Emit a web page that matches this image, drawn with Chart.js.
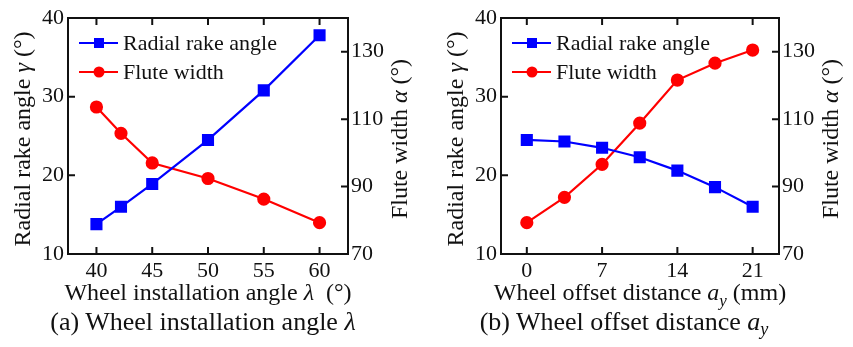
<!DOCTYPE html>
<html>
<head>
<meta charset="utf-8">
<script src="https://cdn.jsdelivr.net/npm/chart.js@4"></script>
<style>
  html, body { margin: 0; padding: 0; background: #fff; }
  #wrap { position: relative; width: 853px; height: 347px; font-family: "Liberation Serif", "Times New Roman", serif; color: #111; }
  .box { position: absolute; top: 0; height: 310px; }
  .cap { position: absolute; top: 307px; font-size: 26px; line-height: 30px; white-space: nowrap; transform: translateX(-50%); }
  .cap sub { font-size: 0.7em; vertical-align: -0.3em; line-height: 0; }
</style>
</head>
<body>
<div id="wrap">
  <div class="box" style="left:0;width:426px"><canvas id="chartA"></canvas></div>
  <div class="box" style="left:426px;width:427px"><canvas id="chartB"></canvas></div>
  <div class="cap" style="left:203px">(a) Wheel installation angle <i>λ</i></div>
  <div class="cap" style="left:624px">(b) Wheel offset distance <i>a<sub>y</sub></i></div>
</div>
<script>
// data
const angleX = [40, 42.2, 45, 50, 55, 60];
const angleRake = [13.8, 16.0, 18.9, 24.5, 30.8, 37.8];
const angleFlute = [113.6, 105.8, 97.0, 92.4, 86.3, 79.3];
const angleTicks = [40, 45, 50, 55, 60];

const offsetX = [0, 3.5, 7, 10.5, 14, 17.5, 21];
const offsetRake = [24.5, 24.3, 23.5, 22.3, 20.6, 18.5, 16.0];
const offsetFlute = [79.3, 86.8, 96.6, 108.8, 121.6, 126.6, 130.5];
const offsetTicks = [0, 7, 14, 21];

const rakeTicks = [10, 20, 30, 40];
const fluteTicks = [70, 90, 110, 130];

const FONT = '"Liberation Serif", "Times New Roman", serif';
const INK = "#111";
const BLUE = "#0000ff";
const RED = "#ff0000";

// draw text made of plain / italic / subscript pieces, centred on (x, y)
function richText(ctx, parts, x, y, rot, size) {
  const fontOf = p => (p.it ? "italic " : "") + Math.round(p.sub ? size * 0.7 : size) + "px " + FONT;
  ctx.save();
  ctx.translate(x, y);
  ctx.rotate(rot);
  ctx.textBaseline = "middle";
  ctx.textAlign = "left";
  ctx.fillStyle = INK;
  let total = 0;
  parts.forEach(p => { ctx.font = fontOf(p); p.w = ctx.measureText(p.t).width; total += p.w; });
  let cx = -total / 2;
  parts.forEach(p => {
    ctx.font = fontOf(p);
    ctx.fillText(p.t, cx, p.sub ? size * 0.3 : 0);
    cx += p.w;
  });
  ctx.restore();
}

const framePlugin = {
  id: "frame",
  afterDraw(chart) {
    const ctx = chart.ctx;
    const a = chart.chartArea;
    const { x, y, y1 } = chart.scales;
    const cfg = chart.options.plugins.frame;
    const tick = 7;

    ctx.save();
    ctx.strokeStyle = INK;
    ctx.lineWidth = 2;
    ctx.strokeRect(a.left, a.top, a.right - a.left, a.bottom - a.top);
    ctx.beginPath();
    x.ticks.forEach(t => {
      const px = x.getPixelForValue(t.value);
      ctx.moveTo(px, a.bottom); ctx.lineTo(px, a.bottom - tick);
      ctx.moveTo(px, a.top); ctx.lineTo(px, a.top + tick);
    });
    y.ticks.forEach(t => {
      const py = y.getPixelForValue(t.value);
      ctx.moveTo(a.left, py); ctx.lineTo(a.left + tick, py);
    });
    y1.ticks.forEach(t => {
      const py = y1.getPixelForValue(t.value);
      ctx.moveTo(a.right, py); ctx.lineTo(a.right - tick, py);
    });
    ctx.stroke();

    // legend inside the plot
    chart.data.datasets.forEach((ds, i) => {
      const ly = a.top + 25 + i * 29;
      const lx = a.left + 11;
      ctx.strokeStyle = ds.borderColor;
      ctx.lineWidth = 2.2;
      ctx.beginPath(); ctx.moveTo(lx, ly); ctx.lineTo(lx + 39, ly); ctx.stroke();
      ctx.fillStyle = ds.backgroundColor;
      if (ds.pointStyle === "rect") {
        ctx.fillRect(lx + 15, ly - 5, 10, 10);
      } else {
        ctx.beginPath(); ctx.arc(lx + 20, ly, 5.5, 0, Math.PI * 2); ctx.fill();
      }
      ctx.fillStyle = INK;
      ctx.font = "22px " + FONT;
      ctx.textBaseline = "middle";
      ctx.fillText(ds.label, lx + 44, ly + 1);
    });
    ctx.restore();

    const mid = (a.top + a.bottom) / 2 + 3;
    richText(ctx, cfg.xTitle, (a.left + a.right) / 2, a.bottom + 40, 0, 24);
    richText(ctx, cfg.yTitle, a.left - 44, mid, -Math.PI / 2, 24);
    richText(ctx, cfg.y1Title, a.right + 53, mid, -Math.PI / 2, 24);
  }
};

function makeChart(id, xs, rake, flute, xTicks, xMin, xMax, leftW, rightW, xTitle) {
  const tickFont = { family: FONT, size: 22 };
  const noGrid = { display: false, drawTicks: false };
  new Chart(document.getElementById(id).getContext("2d"), {
    type: "line",
    data: {
      datasets: [
        {
          label: "Radial rake angle",
          data: xs.map((v, i) => ({ x: v, y: rake[i] })),
          yAxisID: "y",
          borderColor: BLUE,
          backgroundColor: BLUE,
          borderWidth: 2.2,
          pointStyle: "rect",
          pointRadius: 7,
          tension: 0,
        },
        {
          label: "Flute width",
          data: xs.map((v, i) => ({ x: v, y: flute[i] })),
          yAxisID: "y1",
          borderColor: RED,
          backgroundColor: RED,
          borderWidth: 2.2,
          pointStyle: "circle",
          pointRadius: 5.5,
          tension: 0,
        },
      ],
    },
    options: {
      responsive: true,
      maintainAspectRatio: false,
      animation: false,
      layout: { padding: { top: 18, left: 0, right: 0, bottom: 0 } },
      plugins: {
        legend: { display: false },
        tooltip: { enabled: false },
        frame: {
          xTitle: xTitle,
          yTitle: [{ t: "Radial rake angle " }, { t: "γ", it: true }, { t: " (°)" }],
          y1Title: [{ t: "Flute width " }, { t: "α", it: true }, { t: " (°)" }],
        },
      },
      scales: {
        x: {
          type: "linear",
          position: "bottom",
          min: xMin,
          max: xMax,
          afterBuildTicks: s => { s.ticks = xTicks.map(v => ({ value: v })); },
          afterFit: s => { s.height = 56; },
          grid: noGrid,
          border: { display: false },
          ticks: { font: tickFont, color: INK, padding: 4, maxRotation: 0, autoSkip: false },
        },
        y: {
          position: "left",
          min: 10,
          max: 40,
          afterBuildTicks: s => { s.ticks = rakeTicks.map(v => ({ value: v })); },
          afterFit: s => { s.width = leftW; },
          grid: noGrid,
          border: { display: false },
          ticks: { font: tickFont, color: INK, padding: 4 },
        },
        y1: {
          position: "right",
          min: 70,
          max: 140,
          afterBuildTicks: s => { s.ticks = fluteTicks.map(v => ({ value: v })); },
          afterFit: s => { s.width = rightW; },
          grid: noGrid,
          border: { display: false },
          ticks: { font: tickFont, color: INK, padding: 3 },
        },
      },
    },
    plugins: [framePlugin],
  });
}

makeChart("chartA", angleX, angleRake, angleFlute, angleTicks, 37.45, 62.55, 68, 78,
  [{ t: "Wheel installation angle " }, { t: "λ", it: true }, { t: "  (°)" }]);
makeChart("chartB", offsetX, offsetRake, offsetFlute, offsetTicks, -2.4, 23.45, 75, 74,
  [{ t: "Wheel offset distance " }, { t: "a", it: true }, { t: "y", it: true, sub: true }, { t: " (mm)" }]);
</script>
</body>
</html>
